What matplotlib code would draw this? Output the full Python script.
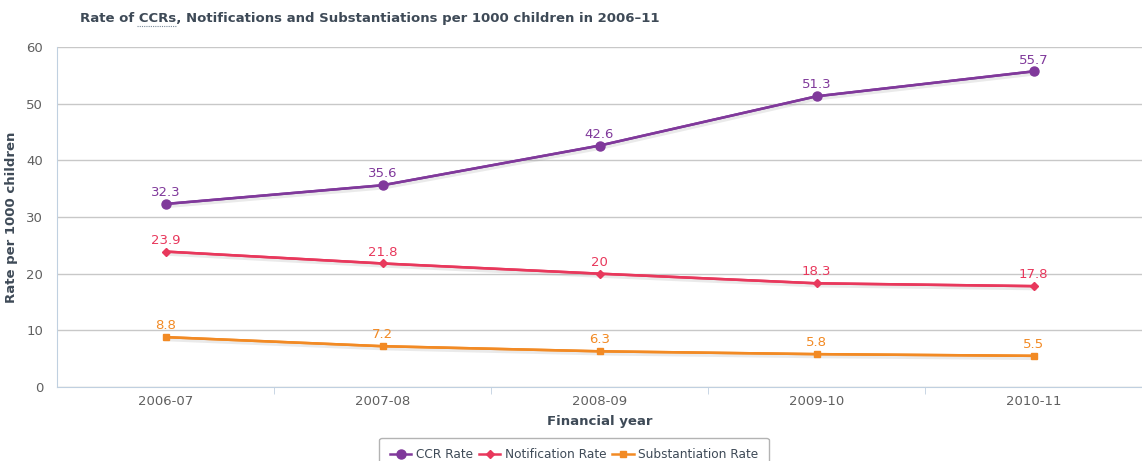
import matplotlib.pyplot as plt
import matplotlib.patheffects as pe
import numpy as np

years = ["2006-07", "2007-08", "2008-09", "2009-10", "2010-11"]
ccr_rate = [32.3, 35.6, 42.6, 51.3, 55.7]
notification_rate = [23.9, 21.8, 20, 18.3, 17.8]
substantiation_rate = [8.8, 7.2, 6.3, 5.8, 5.5]

series = [
    ("CCR Rate", ccr_rate, "#80399b", "o", 6.5),
    ("Notification Rate", notification_rate, "#e8385c", "D", 4.5),
    ("Substantiation Rate", substantiation_rate, "#f28a24", "s", 4.5),
]

fig = plt.figure(figsize=(11.42, 4.61), dpi=100)
ax = fig.add_axes([57 / 1142, 74 / 461, 1 - 57 / 1142, 340 / 461])

x = np.arange(len(years))
shadow = [pe.SimpleLineShadow(offset=(1, -1.5), shadow_color="#999999", alpha=0.2, linewidth=3),
          pe.Normal()]
for name, vals, color, marker, ms in series:
    # line with a soft shadow, markers drawn on top without one
    ax.plot(x, vals, color=color, lw=1.8, path_effects=shadow, zorder=3)
    ax.plot(x, vals, color=color, lw=1.8, marker=marker, ms=ms, label=name, zorder=4)
    for xi, v in zip(x, vals):
        ax.annotate(f"{v:g}", (xi, v), xytext=(0, 3.5), textcoords="offset points",
                    ha="center", va="bottom", color=color, fontsize=9.5, zorder=5)

ax.set_xlim(-0.5, len(years) - 0.5)
ax.set_ylim(0, 60)
ax.set_yticks(range(0, 61, 10))
ax.set_xticks(x)
ax.set_xticklabels(years)
ax.set_xticks(np.arange(0.5, len(years) - 1, 1), minor=True)
ax.tick_params(axis="x", which="major", length=0, colors="#606060", labelsize=9.5, pad=6)
ax.tick_params(axis="x", which="minor", length=5, color="#c0d0e0", direction="out")
ax.tick_params(axis="y", length=0, colors="#606060", labelsize=9.5, pad=10)
ax.grid(axis="y", color="#c8c8c8", lw=1)
ax.set_axisbelow(True)
for side in ["top", "right"]:
    ax.spines[side].set_visible(False)
for side in ["left", "bottom"]:
    ax.spines[side].set_color("#c0d0e0")

ax.set_xlabel("Financial year", fontsize=9.5, fontweight="bold", color="#3e4a57", labelpad=5)
ax.set_ylabel("Rate per 1000 children", fontsize=9.5, fontweight="bold", color="#3e4a57", labelpad=6)

# title with a dotted underline below the abbreviation
title_kw = dict(fontsize=9.5, fontweight="bold", color="#3e4a57", va="baseline")
ty = 1 - 22 / 461
t = fig.text(80 / 1142, ty, "Rate of CCRs, Notifications and Substantiations per 1000 children in 2006\u201311",
             **title_kw)
r = fig.canvas.get_renderer()
m1 = fig.text(80 / 1142, ty, "Rate of ", **title_kw)
m2 = fig.text(80 / 1142, ty, "Rate of CCRs", **title_kw)
x0 = m1.get_window_extent(r).x1 - 2
x1 = m2.get_window_extent(r).x1
m1.remove()
m2.remove()
fig.add_artist(plt.Line2D([x0 / 1142, x1 / 1142], [ty - 4 / 461] * 2, transform=fig.transFigure,
                          color="#7a8a9a", lw=0.8, ls=(0, (1, 1))))

leg = fig.legend(loc="upper center", bbox_to_anchor=(574 / 1142, 1 - 438 / 461), ncol=3,
                 frameon=True, fancybox=True, fontsize=8.7, handlelength=1.8,
                 columnspacing=0.5, handletextpad=0.35, borderpad=0.85, borderaxespad=0)
leg.get_frame().set_edgecolor("#a0a0a0")
leg.get_frame().set_linewidth(1)
for txt in leg.get_texts():
    txt.set_color("#3e4a57")

fig.savefig("out.png", dpi=100)
